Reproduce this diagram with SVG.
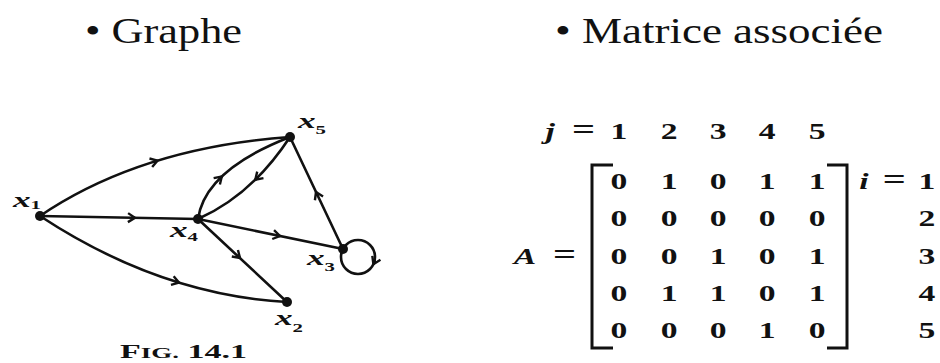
<svg xmlns="http://www.w3.org/2000/svg" width="940" height="363" viewBox="0 0 940 363" font-family="'Liberation Serif', 'DejaVu Serif', serif">
<style>
.ttl{font-family:'Liberation Serif','DejaVu Serif',serif;font-size:36px;fill:#111}
.edge{fill:none;stroke:#111;stroke-width:2.6;stroke-linecap:round}
.ah{fill:none;stroke:#111;stroke-width:2.6}
.dot{fill:#111}
.lbl{font-family:'Liberation Serif','DejaVu Serif',serif;font-style:italic;font-weight:bold;font-size:22px;fill:#111}
.sub{font-size:13px;font-style:normal}
.cap{font-family:'Liberation Serif','DejaVu Serif',serif;font-weight:bold;font-size:19px;fill:#111}
.mx{font-family:'Liberation Serif','DejaVu Serif',serif;font-weight:bold;font-size:24px;fill:#111;text-anchor:middle}
.eq{font-size:29px}
.it{font-style:italic}
.br{fill:none;stroke:#111;stroke-width:3}
</style>
<defs>
<marker id="v" viewBox="-10 -6 12 12" markerWidth="12" markerHeight="12" refX="0" refY="0" orient="auto" markerUnits="userSpaceOnUse">
<path d="M-7,-4.5 L0,0 L-7,4.5" fill="none" stroke="#111" stroke-width="2.4"/>
</marker>
</defs>
<rect width="940" height="363" fill="#fff"/>

<text class="ttl" x="85" y="43" textLength="157" lengthAdjust="spacingAndGlyphs">• Graphe</text>
<text class="ttl" x="555" y="43" textLength="328" lengthAdjust="spacingAndGlyphs">• Matrice associée</text>

<g id="edges">
<path class="edge" d="M40,216 Q140,148 290,137"/>
<path class="edge" d="M40,216 L198,219"/>
<path class="edge" d="M40,216 Q160,295 287,302"/>
<path class="edge" d="M198,219 Q205,170 290,137"/>
<path class="edge" d="M290,137 Q252,195 198,219"/>
<path class="edge" d="M198,219 L343,249"/>
<path class="edge" d="M198,219 L287,302"/>
<path class="edge" d="M343,249 L290,137"/>
<circle class="edge" cx="358" cy="257" r="17"/>
<g class="ah">
<path d="M153.7,161.9 L157.5,160.7" marker-end="url(#v)"/>
<path d="M131,217.7 L135,217.8" marker-end="url(#v)"/>
<path d="M175.2,281.4 L179,282.6" marker-end="url(#v)"/>
<path d="M218.9,179.3 L221.8,176.5" marker-end="url(#v)"/>
<path d="M258.2,176.9 L255.3,179.7" marker-end="url(#v)"/>
<path d="M276.1,235.2 L280,236" marker-end="url(#v)"/>
<path d="M237.1,255.3 L240,258" marker-end="url(#v)"/>
<path d="M317.7,195.6 L316,192" marker-end="url(#v)"/>
<path d="M375.1,260.6 L373.4,264.2" marker-end="url(#v)"/>
</g>
</g>

<g id="n1">
<circle class="dot" cx="40" cy="216" r="5"/>
<text class="lbl" transform="translate(13,207) scale(1.6,1)">x<tspan class="sub" dy="2">1</tspan></text>
</g>
<g id="n4">
<circle class="dot" cx="198" cy="219" r="5"/>
<text class="lbl" transform="translate(170,237) scale(1.6,1)">x<tspan class="sub" dy="4">4</tspan></text>
</g>
<g id="n5">
<circle class="dot" cx="290" cy="137" r="5"/>
<text class="lbl" transform="translate(298,128) scale(1.6,1)">x<tspan class="sub" dy="6">5</tspan></text>
</g>
<g id="n3">
<circle class="dot" cx="343" cy="249" r="5"/>
<text class="lbl" transform="translate(307,265) scale(1.6,1)">x<tspan class="sub" dy="6">3</tspan></text>
</g>
<g id="n2">
<circle class="dot" cx="287" cy="302" r="5"/>
<text class="lbl" transform="translate(275,325) scale(1.6,1)">x<tspan class="sub" dy="7">2</tspan></text>
</g>

<text class="cap" x="120" y="358" textLength="127" lengthAdjust="spacingAndGlyphs">F<tspan font-size="15">IG.</tspan> 14.1</text>

<g id="matrix">
<path class="br" d="M613,165 H592 V348 H613"/>
<path class="br" d="M827,165 H847 V348 H827"/>
<g transform="scale(1.4,1)">
<text class="mx it" x="392.9" y="139">j</text>
<text class="mx eq" x="416.8" y="139">=</text>
<text class="mx" x="442.1 477.9 512.9 547.9 583.6" y="139">12345</text>
<text class="mx" x="442.1 477.9 512.9 547.9 583.6" y="189">01011</text>
<text class="mx" x="442.1 477.9 512.9 547.9 583.6" y="226">00000</text>
<text class="mx" x="442.1 477.9 512.9 547.9 583.6" y="264">00101</text>
<text class="mx" x="442.1 477.9 512.9 547.9 583.6" y="301">01101</text>
<text class="mx" x="442.1 477.9 512.9 547.9 583.6" y="338">00010</text>
<text class="mx it" x="375" y="264">A</text>
<text class="mx eq" x="403.2" y="264">=</text>
<text class="mx it" x="617.1" y="189">i</text>
<text class="mx eq" x="638.9" y="189">=</text>
<text class="mx" x="662.1" y="189">1</text>
<text class="mx" x="662.1" y="226">2</text>
<text class="mx" x="662.1" y="264">3</text>
<text class="mx" x="662.1" y="301">4</text>
<text class="mx" x="662.1" y="338">5</text>
</g>
</g>
</svg>
